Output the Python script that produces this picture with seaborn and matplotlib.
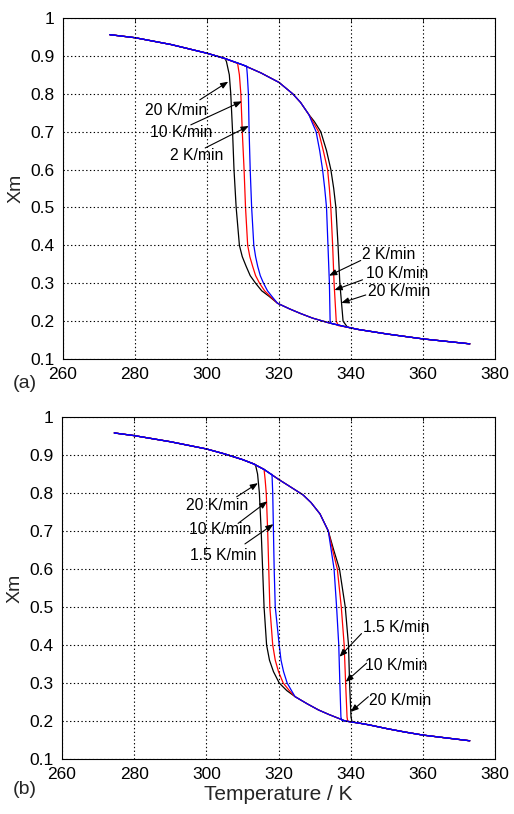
import numpy as np
import pandas as pd
import matplotlib
matplotlib.use("Agg")
import matplotlib.pyplot as plt
import seaborn as sns

# ---------------- data ----------------
rates_a = ["20 K/min", "10 K/min", "2 K/min"]
rates_b = ["20 K/min", "10 K/min", "1.5 K/min"]
colors = ["black", "#ff0000", "#0000ff"]

# panel (a) common branches
upper_a_T = [273, 280, 290, 300, 305, 310, 315, 320, 323.8, 326, 328.3]
upper_a_X = [0.956, 0.948, 0.930, 0.907, 0.893, 0.876, 0.855, 0.830, 0.800, 0.777, 0.745]
lower_a_T = [319.6, 323, 326, 329.3, 334, 339, 342, 350, 360, 373]
lower_a_X = [0.247, 0.232, 0.220, 0.208, 0.195, 0.184, 0.178, 0.166, 0.153, 0.140]

# panel (a) heating transitions (start on upper branch, end on lower branch)
heat_a_T = [
    [328.3, 329.8, 331.6, 333.2, 334.4, 335.2, 335.8, 336.4, 336.9, 337.8, 339.0],
    [328.3, 329.5, 331.0, 332.3, 333.5, 334.0, 334.4, 334.9, 335.3, 335.9, 336.5],
    [328.3, 329.3, 330.3, 331.3, 332.1, 332.7, 333.2, 333.6, 334.0, 334.2, 334.5],
]
heat_a_X = [
    [0.745, 0.727, 0.700, 0.650, 0.600, 0.550, 0.500, 0.400, 0.300, 0.200, 0.184],
    [0.745, 0.725, 0.700, 0.650, 0.600, 0.550, 0.500, 0.400, 0.300, 0.200, 0.188],
    [0.745, 0.722, 0.700, 0.650, 0.600, 0.550, 0.500, 0.400, 0.300, 0.200, 0.194],
]
# panel (a) cooling transitions (start on lower branch, end on upper branch)
cool_a_T = [
    [319.6, 317.3, 315.2, 313.5, 312.0, 310.9, 309.8, 309.0, 308.1, 307.5, 307.1, 306.6, 306.2, 305.4],
    [319.6, 317.8, 316.0, 314.6, 313.5, 312.7, 311.9, 311.3, 310.7, 310.3, 309.8, 309.4, 309.0, 308.5],
    [319.6, 318.3, 316.8, 315.7, 314.8, 314.1, 313.5, 313.0, 312.4, 312.0, 311.7, 311.5, 311.2, 311.0],
]
cool_a_X = [
    [0.247, 0.265, 0.280, 0.300, 0.320, 0.344, 0.370, 0.400, 0.500, 0.600, 0.700, 0.800, 0.850, 0.885],
    [0.247, 0.263, 0.280, 0.300, 0.320, 0.344, 0.370, 0.400, 0.500, 0.600, 0.700, 0.800, 0.850, 0.880],
    [0.247, 0.262, 0.280, 0.300, 0.320, 0.344, 0.370, 0.400, 0.500, 0.600, 0.700, 0.800, 0.850, 0.873],
]

# panel (b) common branches
upper_b_T = [274.5, 280, 290, 300, 305, 310, 313, 316, 318, 320, 323, 326.8, 329, 331.5, 333.8]
upper_b_X = [0.958, 0.951, 0.935, 0.916, 0.903, 0.888, 0.877, 0.862, 0.849, 0.836, 0.818, 0.795, 0.775, 0.745, 0.700]
lower_b_T = [324.6, 328, 331.1, 334, 338.5, 342, 345, 350, 355, 360, 366, 373]
lower_b_X = [0.264, 0.245, 0.229, 0.217, 0.200, 0.195, 0.190, 0.180, 0.171, 0.163, 0.156, 0.148]

heat_b_T = [
    [333.8, 335.3, 336.9, 338.5, 339.4, 339.7, 340.1, 340.4],
    [333.8, 335.0, 336.3, 337.4, 338.2, 338.6, 339.0, 339.2],
    [333.8, 334.6, 335.4, 336.1, 336.7, 337.0, 337.3, 337.6],
]
heat_b_X = [
    [0.700, 0.650, 0.600, 0.500, 0.400, 0.300, 0.210, 0.197],
    [0.700, 0.650, 0.600, 0.500, 0.400, 0.300, 0.210, 0.199],
    [0.700, 0.650, 0.600, 0.500, 0.400, 0.300, 0.210, 0.201],
]
cool_b_T = [
    [324.6, 322.3, 320.2, 318.6, 317.5, 316.7, 316.0, 315.6, 315.2, 314.7, 314.2, 313.6],
    [324.6, 323.0, 321.3, 320.0, 319.1, 318.4, 317.6, 317.3, 317.0, 316.6, 316.3, 316.0],
    [324.6, 323.6, 322.4, 321.4, 320.7, 320.2, 319.1, 318.8, 318.6, 318.4, 318.2],
]
cool_b_X = [
    [0.264, 0.280, 0.300, 0.330, 0.360, 0.400, 0.500, 0.600, 0.700, 0.800, 0.850, 0.875],
    [0.264, 0.280, 0.300, 0.330, 0.360, 0.400, 0.500, 0.600, 0.700, 0.800, 0.835, 0.862],
    [0.264, 0.280, 0.300, 0.330, 0.360, 0.400, 0.500, 0.600, 0.700, 0.800, 0.849],
]

x_ticks = [260, 280, 300, 320, 340, 360, 380]
y_ticks = [0.1, 0.2, 0.3, 0.4, 0.5, 0.6, 0.7, 0.8, 0.9, 1.0]
y_tick_labels = ["0.1", "0.2", "0.3", "0.4", "0.5", "0.6", "0.7", "0.8", "0.9", "1"]
panel_labels = ["(a)", "(b)"]
x_label = "Temperature / K"
y_label = "Xm"

# ---------------- layout (annotation placement) ----------------
# (text centre, arrow tail, arrow tip) in data coords
ann_a = [
    ((291.3, 0.757), (298.0, 0.784), (305.9, 0.832)),
    ((292.9, 0.697), (295.5, 0.718), (309.7, 0.780)),
    ((297.0, 0.638), (299.5, 0.657), (311.6, 0.715)),
    ((350.6, 0.376), (342.7, 0.360), (333.9, 0.320)),
    ((352.9, 0.326), (343.2, 0.309), (335.4, 0.282)),
    ((353.4, 0.278), (344.1, 0.269), (337.3, 0.248)),
]
ann_a_text = [rates_a[0], rates_a[1], rates_a[2], rates_a[2], rates_a[1], rates_a[0]]
ann_b = [
    ((302.9, 0.766), (308.4, 0.790), (314.3, 0.826)),
    ((303.8, 0.703), (308.8, 0.720), (316.9, 0.778)),
    ((304.7, 0.635), (310.7, 0.666), (318.6, 0.718)),
    ((352.7, 0.445), (343.0, 0.430), (336.9, 0.369)),
    ((352.7, 0.345), (344.4, 0.352), (338.6, 0.303)),
    ((353.6, 0.253), (344.9, 0.264), (340.0, 0.224)),
]
ann_b_text = [rates_b[0], rates_b[1], rates_b[2], rates_b[2], rates_b[1], rates_b[0]]

sns.set_style("white")
plt.rcParams["font.family"] = ["Liberation Sans", "DejaVu Sans"]

W, H = 514, 814
fig = plt.figure(figsize=(W / 100, H / 100), dpi=100)
ax_a = fig.add_axes([63 / W, 1 - 359 / H, 432 / W, 341 / H])
ax_b = fig.add_axes([62 / W, 1 - 759 / H, 433 / W, 342 / H])


def paths(upT, upX, loT, loX, hT, hX, cT, cX):
    # heating path: upper branch -> heating transition -> lower branch
    up = [(t, x) for t, x in zip(upT, upX) if t < hT[0]]
    lo = [(t, x) for t, x in zip(loT, loX) if t > hT[-1]]
    heat = up + list(zip(hT, hX)) + lo
    # cooling path: upper branch -> cooling transition (reversed) -> lower branch
    up2 = [(t, x) for t, x in zip(upT, upX) if t < cT[-1]]
    lo2 = [(t, x) for t, x in zip(loT, loX) if t > cT[0]]
    cool = up2 + list(zip(cT[::-1], cX[::-1])) + lo2
    return heat, cool


def draw(ax, upT, upX, loT, loX, hTs, hXs, cTs, cXs, anns, ann_texts):
    for i in range(3):
        heat, cool = paths(upT, upX, loT, loX, hTs[i], hXs[i], cTs[i], cXs[i])
        for seg in (heat, cool):
            df = pd.DataFrame(seg, columns=["T", "Xm"])
            sns.lineplot(data=df, x="T", y="Xm", sort=False, estimator=None,
                         color=colors[i], lw=0.9, ax=ax, legend=False)
    ax.set_xlim(260, 380)
    ax.set_ylim(0.1, 1.0)
    ax.set_xticks(x_ticks)
    ax.set_xticklabels([str(t) for t in x_ticks])
    ax.set_yticks(y_ticks)
    ax.set_yticklabels(y_tick_labels)
    ax.tick_params(direction="in", length=3, width=0.6, labelsize=12.5, pad=6,
                   top=True, right=True, colors="black")
    ax.grid(True, color="black", linestyle=(0, (1.2, 2.2)), linewidth=0.8)
    ax.set_axisbelow(False)
    for s in ax.spines.values():
        s.set_visible(True)
        s.set_color("black")
        s.set_linewidth(0.8)
    ax.set_ylabel(y_label, fontsize=14, labelpad=4)
    ax.set_xlabel("")
    for (c, tail, tip), txt in zip(anns, ann_texts):
        ax.text(c[0], c[1], txt, ha="center", va="center", fontsize=11.3,
                color="black", zorder=5)
        ax.annotate("", xy=tip, xytext=tail,
                    arrowprops=dict(arrowstyle="-|>,head_length=0.45,head_width=0.18",
                                    color="black", lw=0.8, shrinkA=0, shrinkB=0),
                    zorder=6)


draw(ax_a, upper_a_T, upper_a_X, lower_a_T, lower_a_X, heat_a_T, heat_a_X,
     cool_a_T, cool_a_X, ann_a, ann_a_text)
draw(ax_b, upper_b_T, upper_b_X, lower_b_T, lower_b_X, heat_b_T, heat_b_X,
     cool_b_T, cool_b_X, ann_b, ann_b_text)

ax_b.set_xlabel(x_label, fontsize=15, labelpad=2)
fig.text(25 / W, 1 - 383 / H, panel_labels[0], ha="center", va="center", fontsize=14)
fig.text(25 / W, 1 - 789 / H, panel_labels[1], ha="center", va="center", fontsize=14)

fig.savefig("out.png", dpi=100)
